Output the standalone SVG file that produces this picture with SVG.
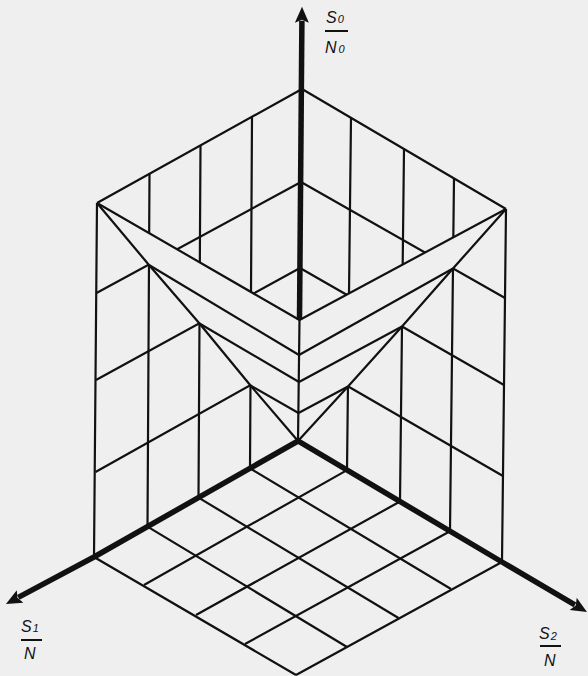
<svg xmlns="http://www.w3.org/2000/svg" width="588" height="676" viewBox="0 0 588 676">
<style>
.thin{fill:none;stroke:#111;stroke-width:2.2;stroke-linecap:butt;stroke-linejoin:round}
.thick{fill:none;stroke:#111;stroke-width:5.5;stroke-linejoin:miter}
.lbl{font-family:"Liberation Sans",Arial,sans-serif;font-style:italic;font-size:16px;fill:#111}
.sub{font-size:11px}
.bar{stroke:#111;stroke-width:2}
.occ{fill:#efefef;stroke:none}
</style>
<defs>
<marker id="ah" markerUnits="userSpaceOnUse" markerWidth="18" markerHeight="16" viewBox="0 -8 18 16" refX="2" refY="0" orient="auto-start-reverse">
<path d="M0,-7 L16,0 L0,7 L3,0 Z" fill="#111"/>
</marker>
</defs>
<rect width="588" height="676" fill="#efefef"/>
<g id="floor-grid" class="thin">
<path d="M250,468.3 L451,589 M198.5,497.6 L398.5,618 M147.5,526.6 L347,647 M94,557 L296,675"/>
<path d="M347,470.1 L144,585 M400,501.5 L196,615 M450,531.2 L245,644 M502,562 L296,675"/>
</g>
<g id="left-wall" class="thin">
<path d="M94,557 L97,203 M250,468.3 L252,116.8 M198.5,497.6 L200.5,145.4 M147.5,526.6 L149.5,173.8"/>
<path d="M97,203 L302,89 M95.5,472 L299,358 M96,380 L300,268 M96.5,293 L301,182"/>
</g>
<g id="right-wall" class="thin">
<path d="M502,562 L506,209 M347,470.1 L351,117.8 M400,501.5 L404,149 M450,531.2 L454,178.4"/>
<path d="M302,89 L506,209 M299,358 L503,476 M300,268 L504,385 M301,182 L505,298"/>
</g>
<g id="surface">
<polygon class="occ" points="97,203 299.5,320 506,209 453,268.5 402,326.5 348,386.5 298,441 250.5,385.5 199.5,323.5 149,265"/>
<path class="thin" d="M97,203 L149,265 L199.5,323.5 L250.5,385.5 L298,441 L348,386.5 L402,326.5 L453,268.5 L506,209"/>
<path class="thin" d="M97,203 L299.5,320 L506,209 M149,265 L299,355 L453,268.5 M199.5,323.5 L299,382 L402,326.5 M250.5,385.5 L298.5,413 L348,386.5"/>
<path class="thin" d="M299.5,320 L298,441"/>
</g>
<g id="connectors">
<path id="axis-s0" class="thick" d="M299.5,320 L301.9,20.7" marker-end="url(#ah)"/>
<path id="axis-s1-s2" class="thick" d="M18.3,597.4 L94,557 L298,441 L502,562 L574.9,604.9" marker-start="url(#ah)" marker-end="url(#ah)"/>
</g>
<g id="label-s0">
<text class="lbl" x="326" y="23">S<tspan class="sub" dx="1">0</tspan></text>
<line class="bar" x1="325" y1="31" x2="348" y2="31"/>
<text class="lbl" x="325" y="53">N<tspan class="sub" dx="2">0</tspan></text>
</g>
<g id="label-s1">
<text class="lbl" x="21" y="632">S<tspan class="sub" dx="1">1</tspan></text>
<line class="bar" x1="21" y1="640" x2="42" y2="640"/>
<text class="lbl" x="24" y="659">N</text>
</g>
<g id="label-s2">
<text class="lbl" x="539" y="639">S<tspan class="sub" dx="1" dy="1">2</tspan></text>
<line class="bar" x1="540" y1="646" x2="561" y2="646"/>
<text class="lbl" x="544" y="666">N</text>
</g>
</svg>
